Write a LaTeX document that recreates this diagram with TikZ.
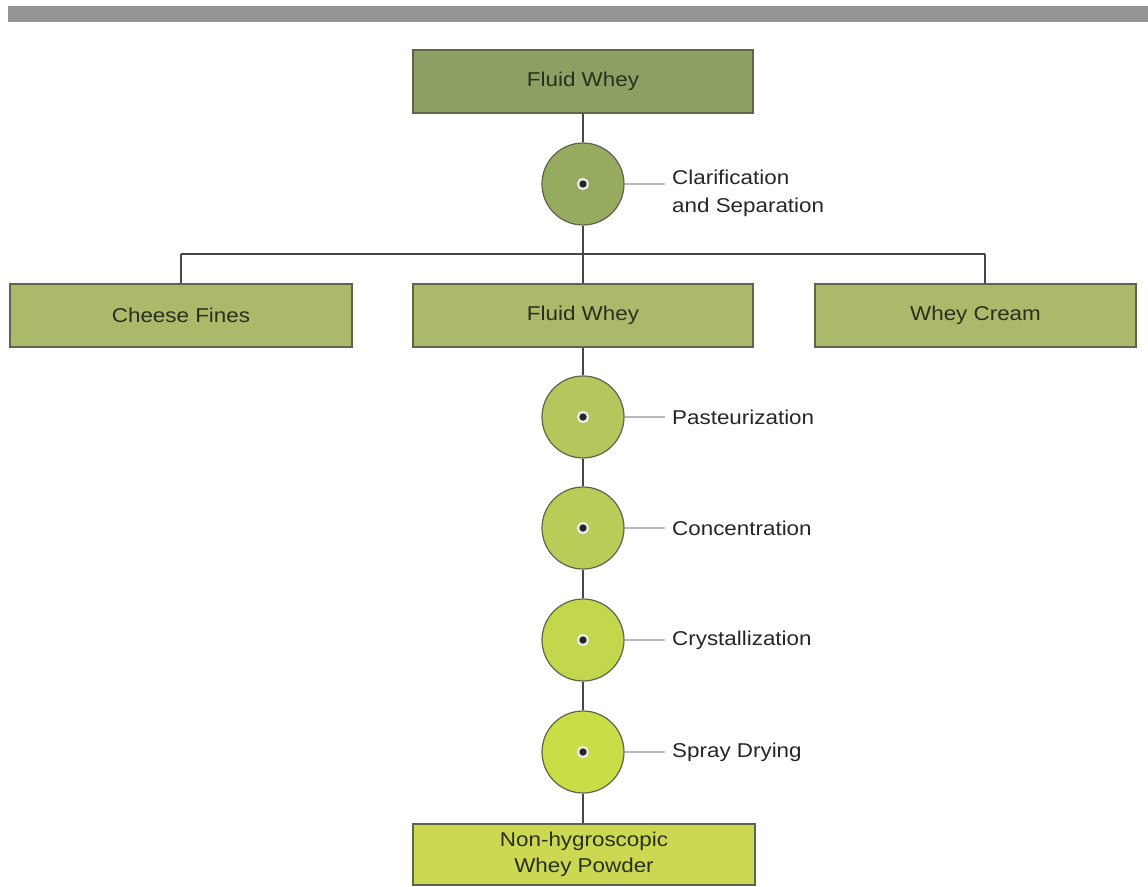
\documentclass[tikz,border=0pt]{standalone}
\usepackage{fontspec}
\setmainfont{Liberation Sans}[FakeStretch=1.12]
\usetikzlibrary{calc}
\definecolor{boxdark}{RGB}{141,160,100}
\definecolor{boxmid}{RGB}{170,186,106}
\definecolor{boxend}{RGB}{205,216,82}
\definecolor{circA}{RGB}{150,170,96}
\definecolor{circB}{RGB}{180,198,92}
\definecolor{circC}{RGB}{186,204,88}
\definecolor{circD}{RGB}{196,214,76}
\definecolor{circE}{RGB}{202,220,70}
\definecolor{edgecol}{RGB}{95,100,75}
\definecolor{linkcol}{RGB}{70,70,70}
\definecolor{leadcol}{RGB}{185,185,185}
\definecolor{txtcol}{RGB}{40,48,30}
\definecolor{barcol}{RGB}{149,149,149}
\begin{document}
\begin{tikzpicture}[x=1pt,y=-1pt,
  box/.style={draw=edgecol,line width=1.2pt,minimum width=340pt,minimum height=63pt,
    inner sep=0pt,align=center,text=txtcol,font=\fontsize{20}{26}\selectfont},
  stage/.style={circle,draw=edgecol,line width=1.2pt,minimum size=82pt,inner sep=0pt},
  link/.style={draw=linkcol,line width=1.3pt},
  lead/.style={draw=leadcol,line width=1.6pt},
  lbl/.style={anchor=west,align=left,text=black!85,inner sep=0pt,
    font=\fontsize{20}{28}\selectfont},
  dot/.style={circle,fill=black!85,draw=white!92!black,line width=2.2pt,minimum size=10pt,inner sep=0pt}
]
\useasboundingbox (0,0) rectangle (1148,886);
\fill[barcol] (8,6) rectangle (1148,22);

\node[box,fill=boxdark] (top) at (583,81.5) {Fluid Whey};
\node[stage,fill=circA] (c1) at (583,184) {};
\node[box,fill=boxmid,minimum width=342pt] (fines) at (181,315.5) {Cheese Fines};
\node[box,fill=boxmid] (mid) at (583,315.5) {Fluid Whey};
\node[box,fill=boxmid,minimum width=321pt] (cream) at (975.5,315.5) {Whey Cream};
\node[stage,fill=circB] (c2) at (583,417) {};
\node[stage,fill=circC] (c3) at (583,528) {};
\node[stage,fill=circD] (c4) at (583,640) {};
\node[stage,fill=circE] (c5) at (583,752) {};
\node[box,fill=boxend,minimum width=342pt,minimum height=61pt,
  font=\fontsize{20}{26}\selectfont] (end) at (584,854.5) {Non-hygroscopic\\Whey Powder};

\coordinate (hub) at (583,254);
\coordinate (hubL) at (181,254);
\coordinate (hubR) at (985,254);

\draw[link] (top) -- (c1);
\draw[link] (c1) -- (mid);
\draw[link] (hubL) -- (hubR);
\draw[link] (hubL) -- (fines.north);
\draw[link] (hubR) -- (hubR |- cream.north);
\draw[link] (mid) -- (c2);
\draw[link] (c2) -- (c3);
\draw[link] (c3) -- (c4);
\draw[link] (c4) -- (c5);
\draw[link] (c5) -- (c5 |- end.north);

\foreach \c in {c1,c2,c3,c4,c5}{
  \coordinate (\c e) at ($(\c)+(82,0)$);
  \draw[lead] (\c) -- (\c e);
  \node[dot] (\c d) at (\c) {};
}
\node[lbl,anchor=north west] (l1) at (672,170) {Clarification\\and Separation};
\node[lbl] (l2) at (672,417) {Pasteurization};
\node[lbl] (l3) at (672,528) {Concentration};
\node[lbl] (l4) at (672,640) {Crystallization};
\node[lbl] (l5) at (672,752) {Spray Drying};
\end{tikzpicture}
\end{document}
